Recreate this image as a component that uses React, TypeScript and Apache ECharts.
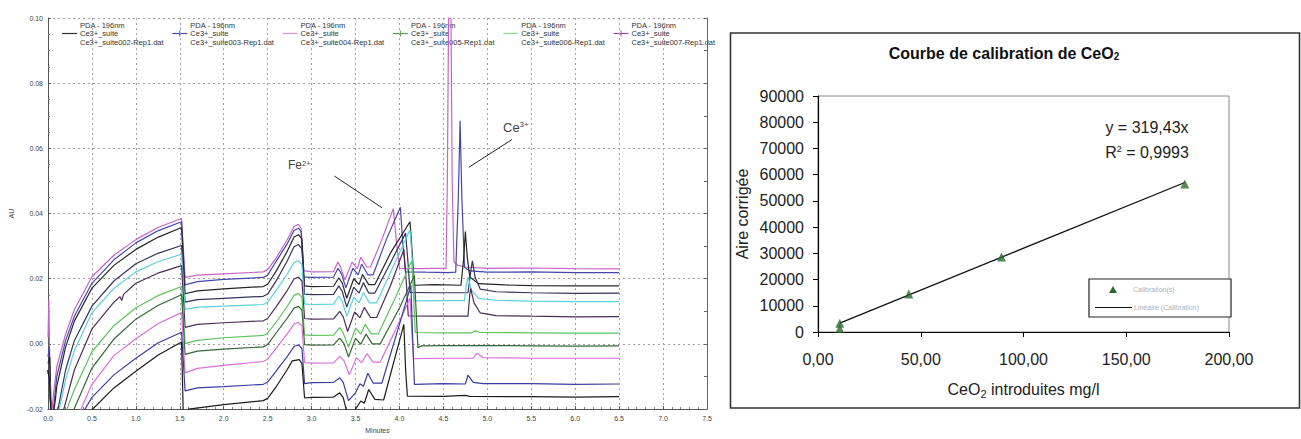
import React, { useEffect, useRef } from "react";
import * as echarts from "echarts";

// ---------- Left chart: chromatograms (time in minutes, absorbance AU) ----------
const TRACE_1: [number, number][] = [[0,0.002],[0.01,0.0136],[0.03,-0.025],[0.06,-0.016],[0.1,-0.007],[0.2,0.003],[0.3,0.0105],[0.5,0.0206],[0.75,0.0272],[1.0,0.032],[1.25,0.0357],[1.52,0.0385],[1.56,0.0204],[1.7,0.0211],[2.0,0.0215],[2.45,0.0221],[2.5,0.0228],[2.6,0.0265],[2.72,0.0318],[2.8,0.036],[2.85,0.0367],[2.88,0.0355],[2.91,0.0225],[3.0,0.0221],[3.25,0.0222],[3.3,0.0251],[3.33,0.0235],[3.38,0.0196],[3.46,0.0251],[3.52,0.0231],[3.56,0.0266],[3.63,0.0236],[3.67,0.0236],[3.8,0.032],[3.93,0.0415],[3.97,0.03],[4.0,0.0232],[4.2,0.0231],[4.4,0.0232],[4.53,0.0232],[4.545,0.05],[4.56,0.105],[4.585,0.105],[4.6,0.05],[4.62,0.0252],[4.66,0.0242],[4.75,0.0236],[5.0,0.0232],[5.5,0.0233],[6.0,0.0231],[6.5,0.023]];
const TRACE_2: [number, number][] = [[0,-0.004],[0.015,-0.001],[0.035,-0.025],[0.07,-0.018],[0.1,-0.01],[0.2,0.001],[0.3,0.0085],[0.5,0.0186],[0.75,0.0258],[1.0,0.031],[1.25,0.0347],[1.52,0.0375],[1.56,0.0181],[1.7,0.0191],[2.0,0.0198],[2.45,0.0204],[2.5,0.0211],[2.6,0.0255],[2.72,0.0306],[2.8,0.0348],[2.85,0.0355],[2.88,0.0345],[2.91,0.0206],[3.0,0.0204],[3.25,0.0205],[3.3,0.0232],[3.34,0.0215],[3.39,0.0172],[3.47,0.0232],[3.53,0.0212],[3.57,0.0245],[3.64,0.0212],[3.7,0.0212],[3.85,0.032],[4.01,0.0419],[4.04,0.03],[4.07,0.0221],[4.3,0.022],[4.55,0.0219],[4.64,0.022],[4.67,0.045],[4.69,0.0685],[4.71,0.045],[4.74,0.0235],[4.8,0.0224],[5.0,0.022],[5.5,0.0221],[6.0,0.0219],[6.5,0.0219]];
const TRACE_3: [number, number][] = [[0,-0.006],[0.02,-0.004],[0.04,-0.025],[0.08,-0.018],[0.1,-0.013],[0.2,-0.001],[0.3,0.007],[0.5,0.0171],[0.75,0.0241],[1.0,0.029],[1.25,0.0327],[1.52,0.0357],[1.56,0.0154],[1.7,0.0163],[2.0,0.0169],[2.45,0.0176],[2.5,0.0183],[2.6,0.0225],[2.72,0.0283],[2.8,0.0328],[2.85,0.0335],[2.89,0.0322],[2.92,0.0178],[3.0,0.0176],[3.25,0.0177],[3.31,0.0203],[3.35,0.0186],[3.4,0.014],[3.48,0.02],[3.54,0.0182],[3.58,0.0213],[3.65,0.0182],[3.72,0.0182],[3.9,0.028],[4.12,0.0375],[4.15,0.026],[4.17,0.018],[4.4,0.0182],[4.7,0.018],[4.73,0.026],[4.75,0.0345],[4.77,0.027],[4.8,0.0205],[4.9,0.0185],[5.2,0.0181],[5.5,0.0179],[6.0,0.0178],[6.5,0.0178]];
const TRACE_4: [number, number][] = [[0,-0.008],[0.02,-0.011],[0.04,-0.025],[0.1,-0.022],[0.2,-0.008],[0.3,0.001],[0.5,0.0116],[0.75,0.0193],[1.0,0.0246],[1.25,0.0278],[1.52,0.0302],[1.56,0.0128],[1.7,0.0136],[2.0,0.014],[2.45,0.0146],[2.5,0.0153],[2.6,0.0195],[2.72,0.0253],[2.8,0.0298],[2.85,0.0305],[2.89,0.0292],[2.92,0.0153],[3.0,0.0151],[3.25,0.0152],[3.31,0.0178],[3.35,0.016],[3.4,0.0113],[3.48,0.0174],[3.54,0.0156],[3.59,0.0188],[3.65,0.0156],[3.72,0.0156],[3.9,0.025],[4.07,0.034],[4.1,0.024],[4.12,0.0158],[4.4,0.0157],[4.78,0.0157],[4.81,0.022],[4.83,0.0255],[4.86,0.0205],[4.92,0.0168],[5.1,0.016],[5.5,0.0157],[6.0,0.0155],[6.5,0.0156]];
const TRACE_5: [number, number][] = [[0,-0.008],[0.02,-0.012],[0.04,-0.025],[0.12,-0.021],[0.2,-0.011],[0.3,-0.002],[0.5,0.0096],[0.75,0.017],[1.0,0.0221],[1.25,0.0252],[1.52,0.0275],[1.56,0.0106],[1.7,0.0113],[2.0,0.0116],[2.45,0.0121],[2.5,0.0128],[2.6,0.0165],[2.72,0.0213],[2.8,0.025],[2.85,0.0255],[2.89,0.0243],[2.92,0.0123],[3.0,0.0121],[3.25,0.0122],[3.31,0.0147],[3.35,0.013],[3.4,0.0085],[3.48,0.0143],[3.54,0.0126],[3.59,0.0157],[3.66,0.0126],[3.74,0.0126],[3.95,0.025],[4.12,0.035],[4.15,0.024],[4.17,0.0132],[4.5,0.0133],[4.74,0.0133],[4.76,0.018],[4.78,0.0206],[4.82,0.0165],[4.9,0.014],[5.1,0.0134],[5.5,0.0131],[6.0,0.013],[6.5,0.013]];
const TRACE_6: [number, number][] = [[0,-0.008],[0.02,-0.012],[0.04,-0.025],[0.17,-0.021],[0.3,-0.008],[0.5,0.0046],[0.75,0.0128],[0.82,0.0145],[0.84,0.0133],[0.86,0.0152],[1.0,0.0186],[1.25,0.0217],[1.52,0.024],[1.56,0.0051],[1.7,0.006],[2.0,0.0065],[2.45,0.0071],[2.5,0.0078],[2.6,0.0115],[2.72,0.0163],[2.8,0.0199],[2.85,0.0205],[2.89,0.0193],[2.92,0.0078],[3.0,0.0076],[3.25,0.0077],[3.32,0.01],[3.36,0.0083],[3.41,0.0038],[3.49,0.0098],[3.55,0.008],[3.6,0.0112],[3.67,0.0081],[3.74,0.0081],[3.9,0.018],[4.05,0.029],[4.08,0.018],[4.1,0.0086],[4.5,0.0085],[4.78,0.0085],[4.8,0.015],[4.81,0.017],[4.85,0.0125],[4.92,0.0095],[5.1,0.0087],[5.5,0.0085],[6.0,0.0083],[6.5,0.0084]];
const TRACE_7: [number, number][] = [[0,-0.008],[0.02,-0.012],[0.04,-0.025],[0.2,-0.021],[0.3,-0.014],[0.5,-0.0024],[0.75,0.0056],[1.0,0.0111],[1.25,0.0148],[1.52,0.0176],[1.56,0.0001],[1.7,0.0011],[2.0,0.0019],[2.45,0.0026],[2.5,0.0033],[2.6,0.0068],[2.72,0.0114],[2.8,0.0149],[2.85,0.0155],[2.89,0.0143],[2.92,0.0028],[3.0,0.0026],[3.25,0.0027],[3.32,0.005],[3.36,0.0033],[3.42,-0.001],[3.5,0.0048],[3.56,0.003],[3.61,0.006],[3.68,0.0031],[3.76,0.0031],[3.95,0.014],[4.14,0.0255],[4.16,0.015],[4.18,0.0035],[4.5,0.0034],[4.82,0.0034],[4.86,0.004],[4.92,0.0035],[5.5,0.0034],[6.0,0.0033],[6.5,0.0033]];
const TRACE_8: [number, number][] = [[0,-0.008],[0.02,-0.012],[0.04,-0.025],[0.28,-0.021],[0.5,-0.0074],[0.75,0.0015],[1.0,0.0076],[1.25,0.0118],[1.52,0.0151],[1.56,-0.0032],[1.7,-0.0022],[2.0,-0.0016],[2.45,-0.0009],[2.5,-0.0002],[2.6,0.0035],[2.72,0.0078],[2.8,0.011],[2.85,0.0115],[2.89,0.0104],[2.92,-0.0002],[3.0,-0.0004],[3.25,-0.0003],[3.32,0.0018],[3.37,0.0],[3.42,-0.004],[3.5,0.0017],[3.56,-0.0001],[3.62,0.003],[3.69,0.0],[3.78,0.0],[4.0,0.011],[4.17,0.021],[4.19,0.01],[4.21,-0.0012],[4.25,-0.0006],[4.5,-0.0005],[5.0,-0.0005],[5.5,-0.0006],[6.0,-0.0007],[6.5,-0.0006]];
const TRACE_9: [number, number][] = [[0,-0.008],[0.02,-0.012],[0.04,-0.025],[0.36,-0.021],[0.5,-0.0124],[0.75,-0.0036],[1.0,0.0016],[1.25,0.0062],[1.52,0.0096],[1.56,-0.0089],[1.7,-0.0075],[2.0,-0.0066],[2.45,-0.0054],[2.5,-0.0047],[2.6,-0.0012],[2.72,0.003],[2.8,0.0061],[2.85,0.0066],[2.89,0.0055],[2.92,-0.0057],[3.0,-0.0059],[3.25,-0.0058],[3.32,-0.0038],[3.37,-0.0052],[3.43,-0.0095],[3.51,-0.0042],[3.57,-0.0058],[3.63,-0.003],[3.7,-0.0056],[3.78,-0.0056],[3.95,0.004],[4.12,0.014],[4.14,0.004],[4.16,-0.0045],[4.5,-0.0044],[4.84,-0.0044],[4.88,-0.0029],[4.95,-0.0042],[5.5,-0.0044],[6.0,-0.0044],[6.5,-0.0044]];
const TRACE_10: [number, number][] = [[0,-0.008],[0.02,-0.012],[0.04,-0.025],[0.4,-0.021],[0.5,-0.0164],[0.75,-0.0095],[1.0,-0.0044],[1.25,0.0003],[1.52,0.0036],[1.56,-0.0144],[1.7,-0.0135],[2.0,-0.0131],[2.45,-0.0124],[2.5,-0.0117],[2.6,-0.0082],[2.72,-0.004],[2.8,-0.0008],[2.85,-0.0003],[2.89,-0.0014],[2.92,-0.0122],[3.0,-0.0119],[3.25,-0.0118],[3.32,-0.0104],[3.36,-0.0118],[3.42,-0.0174],[3.5,-0.015],[3.55,-0.0122],[3.59,-0.013],[3.64,-0.009],[3.7,-0.012],[3.8,-0.012],[4.0,0.006],[4.13,0.018],[4.15,0.002],[4.17,-0.0124],[4.5,-0.0122],[4.75,-0.0123],[4.78,-0.0096],[4.84,-0.0118],[4.95,-0.0122],[5.5,-0.0122],[6.0,-0.0124],[6.5,-0.0123]];
const TRACE_11: [number, number][] = [[0,-0.008],[0.02,-0.012],[0.04,-0.025],[0.49,-0.0205],[0.75,-0.0135],[1.0,-0.0084],[1.25,-0.0035],[1.52,0.0006],[1.54,-0.022],[1.6,-0.02],[2.0,-0.0186],[2.45,-0.0174],[2.5,-0.0167],[2.6,-0.013],[2.72,-0.008],[2.78,-0.0052],[2.86,-0.0048],[2.89,-0.006],[2.92,-0.0166],[3.0,-0.0164],[3.25,-0.0163],[3.32,-0.015],[3.36,-0.0165],[3.42,-0.023],[3.5,-0.02],[3.56,-0.0175],[3.6,-0.0182],[3.65,-0.014],[3.72,-0.017],[3.82,-0.0172],[4.05,0.006],[4.07,-0.008],[4.09,-0.016],[4.5,-0.0161],[4.75,-0.0158],[4.8,-0.0161],[5.5,-0.0162],[6.0,-0.0163],[6.5,-0.0162]];

const TRACES = [TRACE_1, TRACE_2, TRACE_3, TRACE_4, TRACE_5, TRACE_6, TRACE_7, TRACE_8, TRACE_9, TRACE_10, TRACE_11];
const TRACE_COLORS = ["#c864c8", "#4646a8", "#262626", "#34345e", "#5ad2dc", "#4a2e58", "#5cc45c", "#356635", "#dc6edc", "#3c3ca4", "#1c1c1c"];

const LEGEND_FILES = [
  "Ce3+_suite002-Rep1.dat",
  "Ce3+_suite003-Rep1.dat",
  "Ce3+_suite004-Rep1.dat",
  "Ce3+_suite005-Rep1.dat",
  "Ce3+_suite006-Rep1.dat",
  "Ce3+_suite007-Rep1.dat",
];
const LEGEND_COLORS = ["#333333", "#4848c0", "#e08ee0", "#5a9a5a", "#80e080", "#a050a0"];
const LEGEND_PLUS = [false, true, false, true, false, true];

// annotation arrows in data units [time, AU]
const FE_ARROW: [number, number][] = [[3.26, 0.0515], [3.8, 0.0418]];
const CE_ARROW: [number, number][] = [[5.28, 0.0627], [4.79, 0.0542]];

// ---------- Right chart: calibration ----------
const CAL_X = [10.6, 10.6, 44.2, 89.3, 178.5];
const CAL_Y = [3300, 1300, 14500, 28600, 56400];
const TREND_X = [10.6, 178.5];
const TREND_Y = [3386, 57018];

const FONT = "Liberation Sans, Arial, sans-serif";

export default function App() {
  const ref = useRef<HTMLDivElement>(null);

  useEffect(() => {
    if (!ref.current) return;
    const chart = echarts.init(ref.current, undefined, { renderer: "svg" });

    const dotted = { color: "#a0a0a0", type: [2, 3] as any, width: 1 };

    const traceSeries = TRACES.map((tr, i) => ({
      type: "line",
      xAxisIndex: 0,
      yAxisIndex: 0,
      data: tr,
      showSymbol: false,
      symbol: "none",
      clip: true,
      lineStyle: { color: TRACE_COLORS[i], width: 1.2 },
      z: 3,
      ...(i === 0
        ? {
            markLine: {
              silent: true,
              symbol: ["none", "arrow"],
              symbolSize: [0, 8],
              label: { show: false },
              lineStyle: { color: "#222", width: 1, type: "solid" },
              data: [
                [{ coord: FE_ARROW[0] }, { coord: FE_ARROW[1] }],
                [{ coord: CE_ARROW[0] }, { coord: CE_ARROW[1] }],
              ],
            },
          }
        : {}),
    }));

    const legendGraphics: any[] = [];
    LEGEND_FILES.forEach((f, i) => {
      const lx = 62 + 110.3 * i;
      const tx = 80 + 110.3 * i;
      legendGraphics.push({
        type: "line",
        shape: { x1: lx, y1: 33.5, x2: lx + 15, y2: 33.5 },
        style: { stroke: LEGEND_COLORS[i], lineWidth: 1.2 },
      });
      if (LEGEND_PLUS[i]) {
        legendGraphics.push({
          type: "line",
          shape: { x1: lx + 7.5, y1: 30.5, x2: lx + 7.5, y2: 36.5 },
          style: { stroke: LEGEND_COLORS[i], lineWidth: 1 },
        });
      }
      ["PDA - 196nm", "Ce3+_suite", f].forEach((t, k) => {
        legendGraphics.push({
          type: "text",
          x: tx,
          y: 25 + k * 8.5,
          style: { text: t, fill: "#333", fontSize: 7.5, fontFamily: FONT, align: "left", verticalAlign: "middle" },
        });
      });
    });

    const option: any = {
      animation: false,
      backgroundColor: "#ffffff",
      grid: [
        { left: 47, top: 18, width: 660, height: 400 },
        { left: 818, top: 96, width: 411, height: 236, show: true, borderColor: "#8a8a8a", borderWidth: 1 },
      ],
      xAxis: [
        {
          gridIndex: 0,
          type: "value",
          min: 0,
          max: 7.5,
          interval: 0.5,
          axisLine: { show: true, onZero: false, lineStyle: { color: "#555" } },
          axisTick: { show: true, inside: true, length: 3, lineStyle: { color: "#555" } },
          minorTick: { show: true, splitNumber: 5, length: 2, lineStyle: { color: "#777" } },
          axisLabel: { fontSize: 7, color: "#444", fontFamily: FONT, margin: 6, formatter: (v: number) => v.toFixed(1) },
          splitLine: { show: true, lineStyle: dotted },
          name: "Minutes",
          nameLocation: "middle",
          nameGap: 15,
          nameTextStyle: { fontSize: 7, color: "#444", fontFamily: FONT },
        },
        {
          gridIndex: 1,
          type: "value",
          min: 0,
          max: 200,
          interval: 50,
          axisLine: { show: true, onZero: false, lineStyle: { color: "#000", width: 1.2 } },
          axisTick: { show: true, length: 5, lineStyle: { color: "#000" } },
          axisLabel: { fontSize: 16, color: "#222", fontFamily: FONT, margin: 19, formatter: (v: number) => v.toFixed(2).replace(".", ",") },
          splitLine: { show: false },
          name: "CeO{sub|2} introduites mg/l",
          nameLocation: "middle",
          nameGap: 47,
          nameTextStyle: {
            fontSize: 16,
            color: "#222",
            fontFamily: FONT,
            lineHeight: 20,
            rich: { sub: { fontSize: 11, fontFamily: FONT, color: "#222", verticalAlign: "bottom", lineHeight: 20 } },
          },
        },
      ],
      yAxis: [
        {
          gridIndex: 0,
          type: "value",
          min: -0.02,
          max: 0.1,
          interval: 0.02,
          axisLine: { show: true, onZero: false, lineStyle: { color: "#555" } },
          axisTick: { show: true, inside: true, length: 3, lineStyle: { color: "#555" } },
          minorTick: { show: true, splitNumber: 4, length: 2, lineStyle: { color: "#777" } },
          axisLabel: { fontSize: 7, color: "#444", fontFamily: FONT, margin: 5, formatter: (v: number) => v.toFixed(2) },
          splitLine: { show: true, lineStyle: dotted },
          name: "AU",
          nameLocation: "middle",
          nameGap: 33,
          nameTextStyle: { fontSize: 7, color: "#444", fontFamily: FONT },
        },
        {
          gridIndex: 0,
          type: "value",
          position: "right",
          min: -0.02,
          max: 0.1,
          interval: 0.01,
          axisLine: { show: true, onZero: false, lineStyle: { color: "#666" } },
          axisTick: { show: true, inside: true, length: 3, lineStyle: { color: "#666" } },
          axisLabel: { show: false },
          splitLine: { show: false },
        },
        {
          gridIndex: 1,
          type: "value",
          min: 0,
          max: 90000,
          interval: 10000,
          axisLine: { show: true, onZero: false, lineStyle: { color: "#000", width: 1.2 } },
          axisTick: { show: true, length: 5, lineStyle: { color: "#000" } },
          axisLabel: { fontSize: 16, color: "#222", fontFamily: FONT, margin: 14, formatter: (v: number) => String(Math.round(v)) },
          splitLine: { show: false },
          name: "Aire corrigée",
          nameLocation: "middle",
          nameGap: 68,
          nameTextStyle: { fontSize: 16, color: "#222", fontFamily: FONT },
        },
      ],
      series: [
        ...traceSeries,
        {
          type: "line",
          xAxisIndex: 1,
          yAxisIndex: 2,
          data: TREND_X.map((x, i) => [x, TREND_Y[i]]),
          showSymbol: false,
          symbol: "none",
          lineStyle: { color: "#111", width: 1.3 },
          z: 3,
        },
        {
          type: "scatter",
          xAxisIndex: 1,
          yAxisIndex: 2,
          data: CAL_X.map((x, i) => [x, CAL_Y[i]]),
          symbol: "triangle",
          symbolSize: 9,
          itemStyle: { color: "#2c6a2c" },
          z: 4,
        },
      ],
      graphic: [
        ...legendGraphics,
        // annotations
        {
          type: "text",
          x: 288,
          y: 165,
          style: {
            text: "Fe{sup|2+}",
            fill: "#444",
            fontSize: 12,
            fontFamily: FONT,
            align: "left",
            verticalAlign: "middle",
            rich: { sup: { fontSize: 7.5, fill: "#444", fontFamily: FONT, verticalAlign: "top" } },
          },
        },
        {
          type: "text",
          x: 503,
          y: 127,
          style: {
            text: "Ce{sup|3+}",
            fill: "#444",
            fontSize: 13,
            fontFamily: FONT,
            align: "left",
            verticalAlign: "middle",
            rich: { sup: { fontSize: 8, fill: "#444", fontFamily: FONT, verticalAlign: "top" } },
          },
        },
        // right chart frame
        {
          type: "rect",
          shape: { x: 730.5, y: 33, width: 569, height: 375 },
          style: { fill: "none", stroke: "#333", lineWidth: 1.6 },
          z: 0,
        },
        {
          type: "text",
          x: 1004,
          y: 53,
          style: {
            text: "Courbe de calibration de CeO{sub|2}",
            fill: "#111",
            fontSize: 16,
            fontWeight: "bold",
            fontFamily: FONT,
            align: "center",
            verticalAlign: "middle",
            rich: { sub: { fontSize: 10, fontWeight: "bold", fill: "#111", fontFamily: FONT, verticalAlign: "bottom" } },
          },
        },
        {
          type: "text",
          x: 1147,
          y: 127,
          style: { text: "y = 319,43x", fill: "#222", fontSize: 16, fontFamily: FONT, align: "center", verticalAlign: "middle" },
        },
        {
          type: "text",
          x: 1147,
          y: 152,
          style: {
            text: "R{sup|2} = 0,9993",
            fill: "#222",
            fontSize: 16,
            fontFamily: FONT,
            align: "center",
            verticalAlign: "middle",
            rich: { sup: { fontSize: 9, fill: "#222", fontFamily: FONT, verticalAlign: "top" } },
          },
        },
        // right legend box
        {
          type: "rect",
          shape: { x: 1089, y: 279, width: 142, height: 38 },
          style: { fill: "#fff", stroke: "#222", lineWidth: 1.2 },
          z: 10,
        },
        {
          type: "polygon",
          shape: { points: [[1113, 286], [1109, 293], [1117, 293]] },
          style: { fill: "#2c6a2c" },
          z: 11,
        },
        {
          type: "text",
          x: 1133,
          y: 289.5,
          style: { text: "Calibration(s)", fill: "#b0b0b0", fontSize: 7, fontFamily: FONT, align: "left", verticalAlign: "middle" },
          z: 11,
        },
        {
          type: "line",
          shape: { x1: 1095, y1: 307.5, x2: 1132, y2: 307.5 },
          style: { stroke: "#111", lineWidth: 1.2 },
          z: 11,
        },
        {
          type: "text",
          x: 1134,
          y: 307.5,
          style: { text: "Linéaire (Calibration)", fill: "#b0b0b0", fontSize: 7, fontFamily: FONT, align: "left", verticalAlign: "middle" },
          z: 11,
        },
      ],
    };

    chart.setOption(option);
    return () => chart.dispose();
  }, []);

  return (
    <div
      ref={ref}
      style={{ position: "absolute", left: 0, top: 0, width: 1301, height: 439, background: "#fff" }}
    />
  );
}
